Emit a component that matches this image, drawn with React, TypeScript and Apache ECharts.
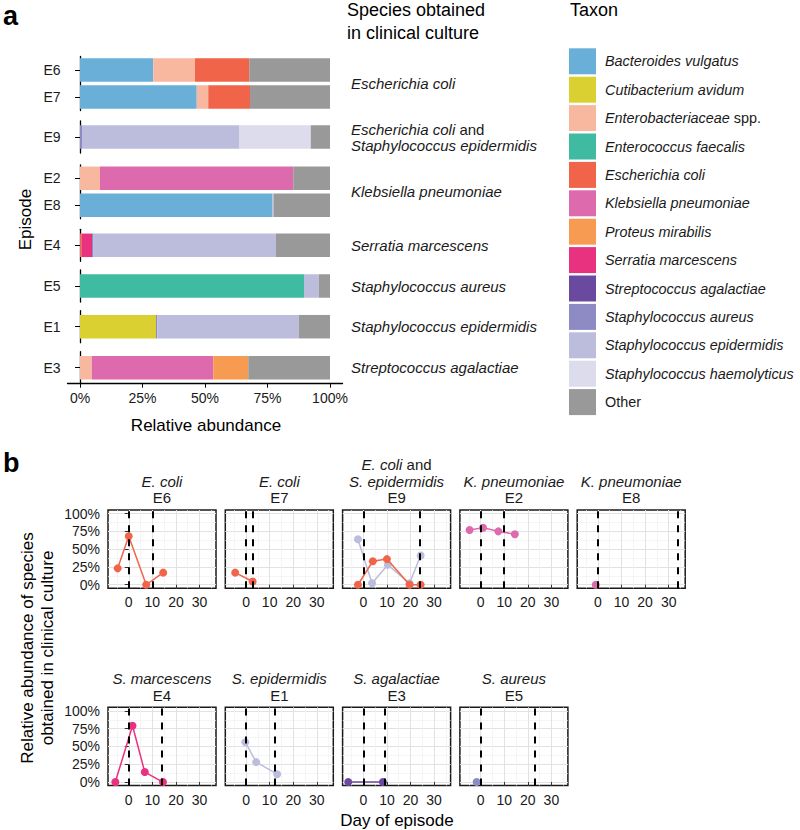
import React, { useEffect, useRef } from 'react';
import * as echarts from 'echarts';

// ---------- Panel a data ----------
const taxa = [
  'Bacteroides vulgatus', 'Cutibacterium avidum', 'Enterobacteriaceae spp.', 'Enterococcus faecalis',
  'Escherichia coli', 'Klebsiella pneumoniae', 'Proteus mirabilis', 'Serratia marcescens',
  'Streptococcus agalactiae', 'Staphylococcus aureus', 'Staphylococcus epidermidis',
  'Staphylococcus haemolyticus', 'Other',
];
const taxonColors = [
  '#6aafd8', '#dbd032', '#f8b8a0', '#3fbba2', '#f0644a', '#dc6aac', '#f89b52', '#e8327f',
  '#6a4a9f', '#8d8ac4', '#bcbddc', '#dcdcec', '#999999',
];
const barEpisodes = ['E6', 'E7', 'E9', 'E2', 'E8', 'E4', 'E5', 'E1', 'E3'];
const facetGroups = [['E6', 'E7'], ['E9'], ['E2', 'E8'], ['E4'], ['E5'], ['E1'], ['E3']];
const cultureSpecies = [
  'Escherichia coli', 'Escherichia coli and Staphylococcus epidermidis', 'Klebsiella pneumoniae',
  'Serratia marcescens', 'Staphylococcus aureus', 'Staphylococcus epidermidis', 'Streptococcus agalactiae',
];
// relative abundance (%) per taxon, in barEpisodes order
const bacteroidesVulgatus = [29.3, 46.7, 0, 0, 77.0, 0, 0, 0, 0];
const cutibacteriumAvidum = [0, 0, 0, 0, 0, 0, 0, 30.4, 0];
const enterobacteriaceaeSpp = [16.7, 4.6, 0, 8.0, 0, 0, 0, 0, 4.7];
const enterococcusFaecalis = [0, 0, 0, 0, 0, 0, 89.6, 0, 0];
const escherichiaColi = [21.7, 16.7, 0, 0, 0, 0.6, 0, 0, 0];
const klebsiellaPneumoniae = [0, 0, 0, 77.3, 0, 0, 0, 0, 48.6];
const proteusMirabilis = [0, 0, 0, 0, 0, 0, 0, 0, 14.0];
const serratiaMarcescens = [0, 0, 0, 0, 0, 4.2, 0, 0, 0];
const streptococcusAgalactiae = [0, 0, 0, 0, 0, 0, 0, 0, 0];
const staphylococcusAureus = [0, 0, 0.8, 0, 0, 0.6, 0, 0.5, 0];
const staphylococcusEpidermidis = [0, 0, 62.8, 0, 0.4, 73.0, 5.9, 56.6, 0];
const staphylococcusHaemolyticus = [0, 0, 28.7, 0, 0, 0, 0, 0, 0];
const other = [32.3, 32.0, 7.7, 14.7, 22.6, 21.6, 4.5, 12.5, 32.7];
const abundanceTicks = [0, 25, 50, 75, 100];

// ---------- Panel b data ----------
const lineEpisodes = ['E6', 'E7', 'E9', 'E2', 'E8', 'E4', 'E1', 'E3', 'E5'];
const stripSpecies = [
  'E. coli', 'E. coli', 'E. coli and S. epidermidis', 'K. pneumoniae', 'K. pneumoniae',
  'S. marcescens', 'S. epidermidis', 'S. agalactiae', 'S. aureus',
];
const episodeEndDay = [10, 3, 24, 10, 34, 14, 12, 9, 23];
const e6Ecoli = [[-4.7, 23], [0, 68], [7.4, 0], [14.6, 17]];
const e7Ecoli = [[-4.6, 17], [2.8, 4.6]];
const e9Sepidermidis = [[-2.3, 64], [3.7, 2], [10.4, 28], [19.6, 2], [24.3, 41]];
const e9Ecoli = [[-2.3, 0], [4, 33], [10, 36], [19.6, 0], [24.3, 0]];
const e2Kpneumoniae = [[-4.7, 77], [1, 80], [7.5, 75], [14.5, 71]];
const e8Kpneumoniae = [[-0.9, 0]];
const e4Smarcescens = [[-5.7, 0], [1.6, 79], [6.8, 14], [14.5, 0]];
const e1Sepidermidis = [[-0.3, 56], [4.3, 28], [13.2, 11]];
const e3Sagalactiae = [[-6.4, 0], [8.3, 0]];
const e5Saureus = [[-1.7, 0]];
const dayTicks = [0, 10, 20, 30];
const dayMinorTicks = [-5, 5, 15, 25, 35];
const pctTicks = [0, 25, 50, 75, 100];
const pctMinorTicks = [12.5, 37.5, 62.5, 87.5];

const FONT = '"Liberation Sans", Arial, Helvetica, sans-serif';
const TXT = '#1a1a1a';

function buildOption() {
  const abundance = [
    bacteroidesVulgatus, cutibacteriumAvidum, enterobacteriaceaeSpp, enterococcusFaecalis,
    escherichiaColi, klebsiellaPneumoniae, proteusMirabilis, serratiaMarcescens,
    streptococcusAgalactiae, staphylococcusAureus, staphylococcusEpidermidis,
    staphylococcusHaemolyticus, other,
  ];
  const lineDefs = [
    { ep: 'E6', taxon: 'Escherichia coli', data: e6Ecoli },
    { ep: 'E7', taxon: 'Escherichia coli', data: e7Ecoli },
    { ep: 'E9', taxon: 'Staphylococcus epidermidis', data: e9Sepidermidis },
    { ep: 'E9', taxon: 'Escherichia coli', data: e9Ecoli },
    { ep: 'E2', taxon: 'Klebsiella pneumoniae', data: e2Kpneumoniae },
    { ep: 'E8', taxon: 'Klebsiella pneumoniae', data: e8Kpneumoniae },
    { ep: 'E4', taxon: 'Serratia marcescens', data: e4Smarcescens },
    { ep: 'E1', taxon: 'Staphylococcus epidermidis', data: e1Sepidermidis },
    { ep: 'E3', taxon: 'Streptococcus agalactiae', data: e3Sagalactiae },
    { ep: 'E5', taxon: 'Staphylococcus aureus', data: e5Saureus },
  ];

  const grids: any[] = [];
  const xAxes: any[] = [];
  const yAxes: any[] = [];
  const series: any[] = [];
  const graphics: any[] = [];

  const richA = {
    i: { fontStyle: 'italic', fontSize: 15, color: TXT, fontFamily: FONT, lineHeight: 16 },
    n: { fontSize: 15, color: TXT, fontFamily: FONT, lineHeight: 16 },
  };
  const fmtSpecies = (v: string) => {
    if (v.indexOf(' and ') >= 0) {
      const [a, b] = v.split(' and ');
      return `{i|${a}} {n|and}\n{i|${b}}`;
    }
    return `{i|${v}}`;
  };

  // ---------- Panel a ----------
  const groupTop = [56.5, 121, 164.8, 229.3, 270, 310.7, 351.7];
  const groupH = [54, 32, 54, 32, 32, 32, 32];
  facetGroups.forEach((eps, g) => {
    const gi = grids.length;
    grids.push({ left: 67.5, width: 275, top: groupTop[g], height: groupH[g] });
    const isLast = g === facetGroups.length - 1;
    const xi = xAxes.length;
    xAxes.push({
      type: 'value', gridIndex: gi, min: -5, max: 105, show: isLast, position: 'bottom',
      axisLine: { show: true, lineStyle: { color: '#000', width: 1.3 } },
      axisTick: { show: true, length: 4, customValues: abundanceTicks, lineStyle: { color: '#000', width: 1 } },
      axisLabel: { customValues: abundanceTicks, formatter: '{value}%', fontSize: 14, color: TXT, margin: 7, fontFamily: FONT },
      splitLine: { show: false },
    });
    const yi = yAxes.length;
    yAxes.push({
      type: 'category', gridIndex: gi, data: eps, inverse: true, position: 'left',
      axisLine: { show: true, lineStyle: { color: '#000', width: 1.3 } },
      axisTick: { show: true, length: 5, alignWithLabel: true, lineStyle: { color: '#000', width: 1 } },
      axisLabel: { fontSize: 14, color: TXT, margin: 7, fontFamily: FONT },
      splitLine: { show: false },
    });
    yAxes.push({
      type: 'category', gridIndex: gi, data: [cultureSpecies[g]], position: 'right',
      axisLine: { show: false }, axisTick: { show: false }, splitLine: { show: false },
      axisLabel: { margin: 8.5, formatter: fmtSpecies, rich: richA, fontFamily: FONT, fontSize: 15 },
    });
    taxa.forEach((t, ti) => {
      series.push({
        type: 'bar', name: t, xAxisIndex: xi, yAxisIndex: yi, stack: 'grp' + g, barWidth: 23.5,
        data: eps.map((e) => abundance[ti][barEpisodes.indexOf(e)]),
        itemStyle: { color: taxonColors[ti] }, silent: true,
      });
    });
  });

  // ---------- Panel b ----------
  const dayMin = -8.8;
  const dayMax = 37;
  const colStep = 117.3;
  const rowTop = [510, 707.3];
  const panelW = 108;
  const panelH = 78.3;
  const richB = {
    i: { fontStyle: 'italic', fontSize: 15, fill: TXT, fontFamily: FONT, lineHeight: 16.5 },
    n: { fontSize: 15, fill: TXT, fontFamily: FONT, lineHeight: 16.5 },
  };
  lineEpisodes.forEach((ep, k) => {
    const row = k < 5 ? 0 : 1;
    const col = row === 0 ? k : k - 5;
    const left = 108 + col * colStep;
    const top = rowTop[row];
    const gi = grids.length;
    grids.push({
      left, top, width: panelW, height: panelH, show: true,
      borderColor: '#1a1a1a', borderWidth: 1.5, backgroundColor: '#fff',
    });
    const xi = xAxes.length;
    xAxes.push({
      type: 'value', gridIndex: gi, min: dayMin, max: dayMax, position: 'bottom',
      axisLine: { show: false },
      axisTick: { show: true, length: 4, customValues: dayTicks, lineStyle: { color: '#333', width: 1 } },
      axisLabel: { customValues: dayTicks, fontSize: 14, color: TXT, margin: 7, fontFamily: FONT },
      splitLine: { show: true, lineStyle: { color: '#e2e2e2', width: 1 } },
    });
    xAxes.push({
      type: 'value', gridIndex: gi, min: dayMin, max: dayMax, position: 'top',
      axisLine: { show: false },
      axisTick: { show: false, customValues: dayMinorTicks },
      axisLabel: { show: false },
      splitLine: { show: true, lineStyle: { color: '#f0f0f0', width: 0.7 } },
    });
    const yi = yAxes.length;
    yAxes.push({
      type: 'value', gridIndex: gi, min: -5, max: 105, position: 'left',
      axisLine: { show: false },
      axisTick: { show: col === 0, length: 4, customValues: pctTicks, lineStyle: { color: '#333', width: 1 } },
      axisLabel: { show: col === 0, customValues: pctTicks, formatter: '{value}%', fontSize: 14, color: TXT, margin: 8, fontFamily: FONT },
      splitLine: { show: true, lineStyle: { color: '#e2e2e2', width: 1 } },
    });
    yAxes.push({
      type: 'value', gridIndex: gi, min: -5, max: 105, position: 'right',
      axisLine: { show: false },
      axisTick: { show: false, customValues: pctMinorTicks },
      axisLabel: { show: false },
      splitLine: { show: true, lineStyle: { color: '#f0f0f0', width: 0.7 } },
    });
    const defs = lineDefs.filter((d) => d.ep === ep);
    defs.forEach((d, j) => {
      const c = taxonColors[taxa.indexOf(d.taxon)];
      series.push({
        type: 'line', name: d.taxon, xAxisIndex: xi, yAxisIndex: yi, data: d.data,
        symbol: 'circle', symbolSize: 8, showSymbol: true, clip: false, silent: true,
        lineStyle: { color: c, width: 1.5 }, itemStyle: { color: c }, z: 3 + j,
        markLine: j === 0 ? {
          silent: true, symbol: ['none', 'none'], label: { show: false },
          lineStyle: { color: '#000', type: [7, 7], width: 2 },
          data: [{ xAxis: 0 }, { xAxis: episodeEndDay[k] }],
        } : undefined,
      });
    });
    // strip label
    const sp = stripSpecies[k];
    let txt: string;
    if (sp.indexOf(' and ') >= 0) {
      const [a, b] = sp.split(' and ');
      txt = `{i|${a}} {n|and}\n{i|${b}}\n{n|${ep}}`;
    } else {
      txt = `{i|${sp}}\n{n|${ep}}`;
    }
    graphics.push({
      type: 'text', x: left + panelW / 2, y: top - 3.8, silent: true,
      style: { text: txt, align: 'center', verticalAlign: 'bottom', rich: richB, fontFamily: FONT, fontSize: 15, fill: TXT },
    });
  });

  // ---------- Titles and labels ----------
  graphics.push(
    { type: 'text', x: 3, y: 16, style: { text: 'a', fontSize: 27, fontWeight: 'bold', fontFamily: FONT, fill: '#000', verticalAlign: 'middle' } },
    { type: 'text', x: 3, y: 463, style: { text: 'b', fontSize: 27, fontWeight: 'bold', fontFamily: FONT, fill: '#000', verticalAlign: 'middle' } },
    { type: 'text', x: 347, y: -1.5, style: { text: 'Species obtained\nin clinical culture', fontSize: 18, lineHeight: 23, fontFamily: FONT, fill: '#000', verticalAlign: 'top' } },
    { type: 'text', x: 570, y: 10, style: { text: 'Taxon', fontSize: 18, fontFamily: FONT, fill: '#000', verticalAlign: 'middle' } },
    { type: 'text', x: 25, y: 219.5, rotation: Math.PI / 2, style: { text: 'Episode', fontSize: 17, fontFamily: FONT, fill: '#000', align: 'center', verticalAlign: 'middle' } },
    { type: 'text', x: 206, y: 425, style: { text: 'Relative abundance', fontSize: 17, fontFamily: FONT, fill: '#000', align: 'center', verticalAlign: 'middle' } },
    { type: 'text', x: 37, y: 648, rotation: Math.PI / 2, style: { text: 'Relative abundance of species\nobtained in clinical culture', fontSize: 17, lineHeight: 20, fontFamily: FONT, fill: '#000', align: 'center', verticalAlign: 'middle' } },
    { type: 'text', x: 397, y: 820, style: { text: 'Day of episode', fontSize: 17, fontFamily: FONT, fill: '#000', align: 'center', verticalAlign: 'middle' } },
  );

  const legendFmt = (name: string) => {
    if (name === 'Other') return `{n|Other}`;
    if (name.endsWith(' spp.')) return `{i|${name.replace(' spp.', '')}} {n|spp.}`;
    return `{i|${name}}`;
  };

  return {
    animation: false,
    backgroundColor: '#fff',
    grid: grids,
    xAxis: xAxes,
    yAxis: yAxes,
    series,
    graphic: graphics,
    legend: {
      orient: 'vertical', left: 569, top: 48.3, itemWidth: 27, itemHeight: 26, itemGap: 2.4,
      icon: 'rect', selectedMode: false, data: taxa, formatter: legendFmt, padding: 0,
      textStyle: {
        fontSize: 14.4, color: TXT, fontFamily: FONT, padding: [0, 0, 0, 4],
        rich: {
          i: { fontStyle: 'italic', fontSize: 14.4, color: TXT, fontFamily: FONT },
          n: { fontSize: 14.4, color: TXT, fontFamily: FONT },
        },
      },
    },
  };
}

export default function App() {
  const ref = useRef<HTMLDivElement>(null);
  useEffect(() => {
    document.body.style.margin = '0';
    const chart = echarts.init(ref.current!, null, { renderer: 'svg' });
    chart.setOption(buildOption() as any);
    return () => chart.dispose();
  }, []);
  return <div ref={ref} style={{ width: 800, height: 830, position: 'absolute', left: 0, top: 0 }} />;
}
